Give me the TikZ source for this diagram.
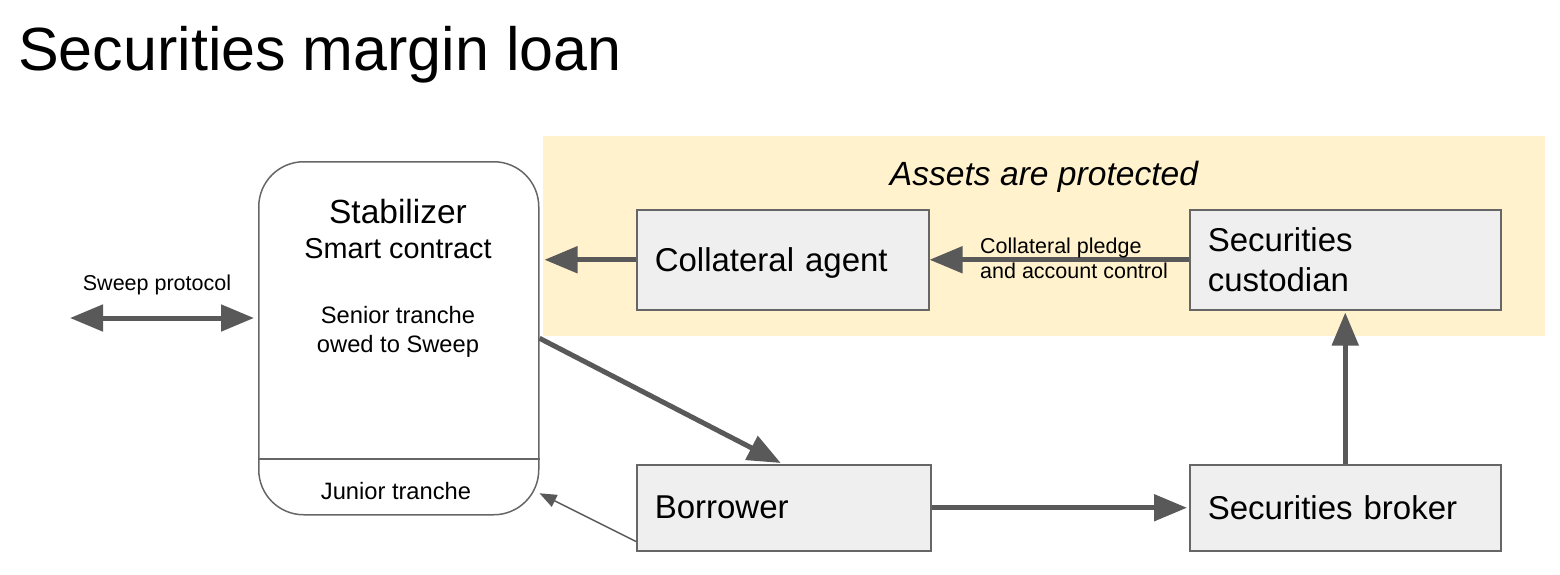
\documentclass[tikz,border=0pt]{standalone}
\usepackage{fontspec}
\setmainfont{Liberation Sans}
\usetikzlibrary{arrows.meta,calc}
\definecolor{arrowgray}{HTML}{595959}
\definecolor{boxfill}{HTML}{EFEFEF}
\definecolor{boxline}{HTML}{666666}
\definecolor{zone}{HTML}{FFF2CC}
\begin{document}
\begin{tikzpicture}[x=1pt,y=-1pt,
  box/.style={draw=boxline, fill=boxfill, line width=1.5pt, anchor=north west, inner xsep=18pt, inner ysep=0pt, align=left, font=\fontsize{33}{40}\selectfont},
  bigarrow/.style={draw=arrowgray, line width=5pt, -{Triangle[length=33pt,width=26pt]}},
  thinarrow/.style={draw=arrowgray, line width=1.5pt, -{Triangle[length=17pt,width=13pt]}},
  lbl/.style={inner sep=0pt, anchor=base}
]
\useasboundingbox (0,0) rectangle (1560,574);
\fill[white] (0,0) rectangle (1560,574);
\node[lbl, anchor=base west, font=\fontsize{61}{70}\selectfont] (title) at (18,70) {Securities margin loan};
\node[fill=zone, anchor=north west, minimum width=1002pt, minimum height=200pt, inner sep=0pt] (zonebox) at (543,136) {};
\node[lbl, font=\fontsize{33.6}{40}\selectfont\itshape] (assets) at (1044,185) {Assets are protected};
% Stabilizer
\node[draw=boxline, fill=white, line width=1.5pt, rounded corners=45pt, anchor=north west, minimum width=280pt, minimum height=353pt, inner sep=0pt] (stab) at (258,161) {};
\draw[boxline, line width=1.5pt] (stab.west |- 0,459) -- (stab.east |- 0,459);
\node[lbl, font=\fontsize{33.5}{40}\selectfont] (stabname) at (398,223) {Stabilizer};
\node[lbl, font=\fontsize{28.8}{34}\selectfont] (smart) at (398,258) {Smart contract};
\node[lbl, font=\fontsize{23.7}{29}\selectfont] (senior1) at (398,323) {Senior tranche};
\node[lbl, font=\fontsize{23.7}{29}\selectfont] (senior2) at (398,352) {owed to Sweep};
\node[lbl, font=\fontsize{23.7}{29}\selectfont] (junior) at (396,499) {Junior tranche};
% Sweep
\node[lbl, font=\fontsize{21.5}{26}\selectfont] (sweeplbl) at (157,290) {Sweep protocol};
\coordinate (sweepend) at (70,318);
\draw[draw=arrowgray, line width=5pt, {Triangle[length=33pt,width=26pt]}-{Triangle[length=33pt,width=26pt]}, shorten >=4pt] (sweepend) -- (stab.west |- sweepend);
% Boxes
\node[box, text width=256pt, minimum height=100pt, text depth=0pt] (ca) at (636,209) {Collateral agent};
\node[box, text width=275pt, minimum height=100pt] (cust) at (1189,209) {Securities\\custodian};
\node[box, text width=258pt, minimum height=86pt] (borrower) at (636,464) {Borrower};
\node[box, text width=275pt, minimum height=86pt] (broker) at (1189,464) {Securities broker};
% Arrows
\draw[bigarrow, shorten >=5pt] (ca.west) -- (stab.east |- ca.west);
\draw[bigarrow] (cust.west) -- (ca.east);
\node[lbl, anchor=base west, font=\fontsize{21.5}{26}\selectfont] (pl1) at (980,253) {Collateral pledge};
\node[lbl, anchor=base west, font=\fontsize{21.5}{26}\selectfont] (pl2) at (980,278) {and account control};
\draw[bigarrow] (stab.east) -- ($(borrower.north)+(-3,-1)$);
\draw[thinarrow] ($(borrower.south west)+(0,-10)$) -- ($(stab.east)+(0,155)$);
\draw[bigarrow, shorten >=2pt] (borrower.east) -- (broker.west);
\draw[bigarrow, shorten >=2pt] (broker.north) -- (cust.south);
\end{tikzpicture}
\end{document}
